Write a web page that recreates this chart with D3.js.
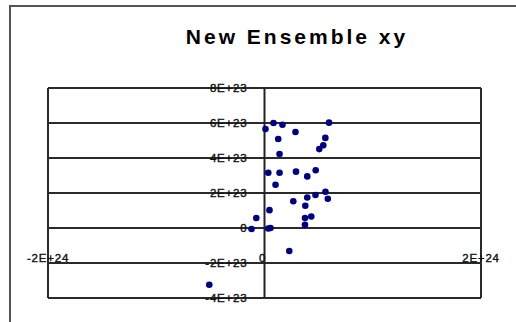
<!DOCTYPE html>
<html>
<head>
<meta charset="utf-8">
<script src="https://cdn.jsdelivr.net/npm/d3@7"></script>
<style>
  html, body { margin: 0; padding: 0; background: #fff; }
  svg { display: block; }
</style>
</head>
<body>
<script>
// Data
const xValues = [0.09e23, 0.83e23, 1.66e23, 2.86e23, 5.96e23, 1.27e23, 5.62e23, 5.43e23, 5.06e23, 1.39e23,
                 0.35e23, 1.39e23, 2.91e23, 3.95e23, 4.73e23, 1.02e23, 2.66e23, 3.95e23, 4.71e23, 5.63e23,
                 5.85e23, 3.77e23, 0.46e23, -0.76e23, 3.74e23, 4.32e23, 3.74e23, -1.20e23, 0.35e23, 0.55e23,
                 2.29e23, -5.10e23];
const yValues = [5.66e23, 6.0e23, 5.9e23, 5.49e23, 6.02e23, 5.09e23, 5.15e23, 4.73e23, 4.51e23, 4.23e23,
                 3.16e23, 3.16e23, 3.22e23, 2.95e23, 3.30e23, 2.47e23, 1.53e23, 1.74e23, 1.89e23, 2.07e23,
                 1.67e23, 1.27e23, 1.02e23, 0.57e23, 0.57e23, 0.66e23, 0.19e23, -0.06e23, -0.03e23, 0.0,
                 -1.31e23, -3.24e23];
const yTicks = [-4e23, -2e23, 0, 2e23, 4e23, 6e23, 8e23];
const yTickLabels = ["-4E+23", "-2E+23", "0", "2E+23", "4E+23", "6E+23", "8E+23"];
const xTicks = [-2e24, 0, 2e24];
const xTickLabels = ["-2E+24", "0", "2E+24"];
const title = "New Ensemble xy";

const W = 516, H = 322;
const svg = d3.select("body").append("svg").attr("width", W).attr("height", H);

// outer chart border (cropped by the window)
svg.append("rect").attr("x", 10).attr("y", 6).attr("width", 530).attr("height", 340)
  .attr("fill", "none").attr("stroke", "#555").attr("stroke-width", 2);

const x = d3.scaleLinear().domain([-2e24, 2e24]).range([48, 481]);
const y = d3.scaleLinear().domain([-4e23, 8e23]).range([298, 88]);

// title
svg.append("text").attr("x", 297).attr("y", 44).attr("text-anchor", "middle")
  .attr("font-family", "Liberation Sans, Arial, sans-serif").attr("font-weight", "bold")
  .attr("font-size", 21).attr("letter-spacing", 3).attr("fill", "#000").text(title);

// horizontal gridlines
svg.append("g").selectAll("line").data(yTicks).join("line")
  .attr("x1", x(-2e24)).attr("x2", x(2e24))
  .attr("y1", d => y(d)).attr("y2", d => y(d))
  .attr("stroke", "#2a2a2a").attr("stroke-width", 2);

// plot area borders
svg.append("line").attr("x1", x(-2e24)).attr("x2", x(-2e24)).attr("y1", y(8e23)).attr("y2", y(-4e23))
  .attr("stroke", "#2a2a2a").attr("stroke-width", 2);
svg.append("line").attr("x1", x(2e24)).attr("x2", x(2e24)).attr("y1", y(8e23)).attr("y2", y(-4e23))
  .attr("stroke", "#2a2a2a").attr("stroke-width", 2);

// y axis at x = 0
svg.append("line").attr("x1", x(0)).attr("x2", x(0)).attr("y1", y(8e23)).attr("y2", y(-4e23))
  .attr("stroke", "#222").attr("stroke-width", 2);

// y tick labels
svg.append("g").selectAll("text").data(yTicks).join("text")
  .attr("x", x(0) - 17).attr("y", d => y(d)).attr("dy", "0.36em")
  .attr("text-anchor", "end")
  .attr("font-family", "Liberation Sans, Arial, sans-serif").attr("font-size", 11.5)
  .attr("letter-spacing", 0.8).attr("fill", "#111")
  .attr("stroke", "#111").attr("stroke-width", 0.4)
  .text((d, i) => yTickLabels[i]);

// x tick labels
svg.append("g").selectAll("text").data(xTicks).join("text")
  .attr("x", d => x(d) + (d === 0 ? -2 : 0)).attr("y", 258).attr("dy", "0.36em")
  .attr("text-anchor", "middle")
  .attr("font-family", "Liberation Sans, Arial, sans-serif").attr("font-size", 11.5)
  .attr("letter-spacing", 0.8).attr("fill", "#111")
  .attr("stroke", "#111").attr("stroke-width", 0.4)
  .text((d, i) => xTickLabels[i]);

// points
svg.append("g").selectAll("circle").data(xValues.map((v, i) => [v, yValues[i]])).join("circle")
  .attr("cx", d => x(d[0])).attr("cy", d => y(d[1])).attr("r", 3.3)
  .attr("fill", "#000080");
</script>
</body>
</html>
